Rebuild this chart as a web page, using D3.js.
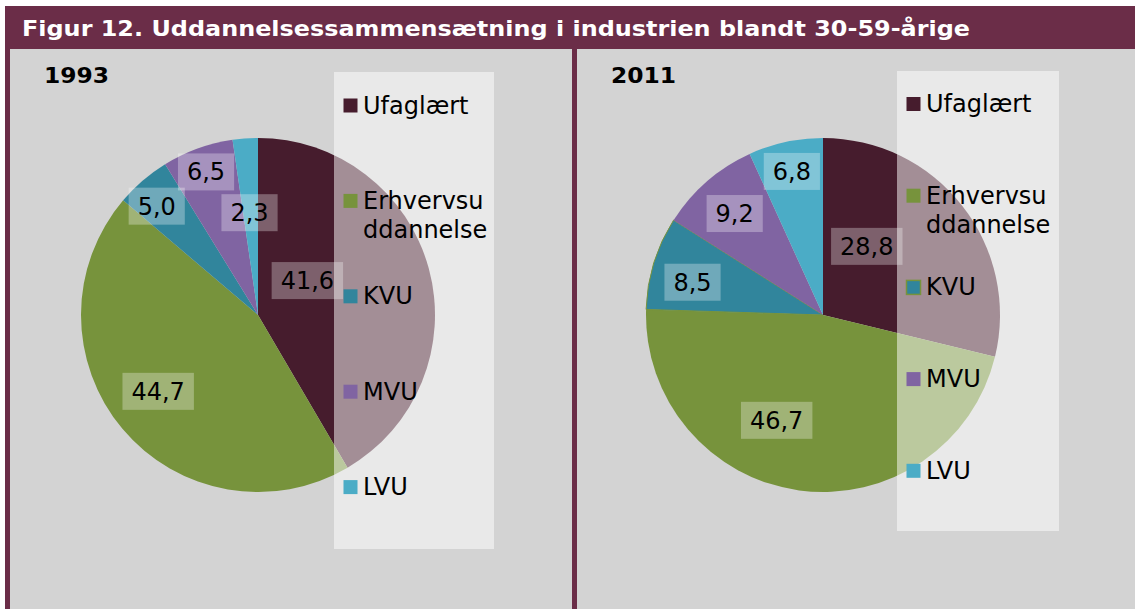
<!DOCTYPE html>
<html>
<head>
<meta charset="utf-8">
<script src="https://cdn.jsdelivr.net/npm/d3@7/dist/d3.min.js"></script>
<style>
  body { margin: 0; background: #fff; }
  text { font-family: "DejaVu Sans", Verdana, sans-serif; }
</style>
</head>
<body>
<div id="chart"></div>
<script>
// data
const title = 'Figur 12. Uddannelsessammensætning i industrien blandt 30-59-årige';
const categories = ['Ufaglært', 'Erhvervsuddannelse', 'KVU', 'MVU', 'LVU'];
const legendLines = [['Ufaglært'], ['Erhvervsu', 'ddannelse'], ['KVU'], ['MVU'], ['LVU']];
const years = ['1993', '2011'];
const values1993 = [41.6, 44.7, 5.0, 6.5, 2.3];
const values2011 = [28.8, 46.7, 8.5, 9.2, 6.8];
const colors = ['#461c2d', '#77933c', '#31859c', '#8064a2', '#4bacc6'];

// layout of the two panels
const width = 1135;
const height = 609;
const maroon = '#6b2d48';
const panels = [
  { year: years[0], values: values1993, x0: 10, x1: 572, cx: 258, cy: 315, r: 177,
    legend: { x: 334, y: 72, w: 160, h: 477, first: 105.5, step: 95.4 },
    // label placement: [fraction of radius, angle shift in degrees]
    labelPlace: [[0.34, -19.7], [0.71, 2.6], [0.84, -2.3], [0.86, 0], [0.58, -0.6]],
    kvuStroke: false },
  { year: years[1], values: values2011, x0: 577, x1: 1135, cx: 823, cy: 315, r: 177,
    legend: { x: 897, y: 71, w: 162, h: 460, first: 104, step: 91.7 },
    labelPlace: [[0.46, -19.3], [0.65, 16], [0.76, -3], [0.76, 0], [0.83, 0]],
    kvuStroke: true }
];

const fmt = d3.formatLocale({ decimal: ',', thousands: '.', grouping: [3], currency: ['', ''] }).format('.1f');

const svg = d3.select('#chart').append('svg')
  .attr('width', width)
  .attr('height', height);

svg.append('rect').attr('width', width).attr('height', height).attr('fill', '#fff');

// title bar
svg.append('rect')
  .attr('x', 5).attr('y', 6)
  .attr('width', width - 5).attr('height', 43)
  .attr('fill', maroon);
svg.append('text')
  .attr('x', 22).attr('y', 36)
  .attr('textLength', 948)
  .attr('lengthAdjust', 'spacingAndGlyphs')
  .style('font-size', '22px')
  .style('font-weight', 'bold')
  .attr('fill', '#fff')
  .text(title);

// side borders
svg.append('rect').attr('x', 5).attr('y', 49).attr('width', 5).attr('height', height - 49).attr('fill', maroon);
svg.append('rect').attr('x', 572).attr('y', 49).attr('width', 5).attr('height', height - 49).attr('fill', maroon);

const pie = d3.pie().sort(null).value(d => d);

panels.forEach(function (p) {
  const g = svg.append('g');

  g.append('rect')
    .attr('x', p.x0).attr('y', 49)
    .attr('width', p.x1 - p.x0).attr('height', height - 49)
    .attr('fill', '#d3d3d3');

  // year heading
  g.append('text')
    .attr('x', p.x0 + 34).attr('y', 83)
    .attr('textLength', 65)
    .attr('lengthAdjust', 'spacingAndGlyphs')
    .style('font-size', '22px')
    .style('font-weight', 'bold')
    .text(p.year);

  const arcs = pie(p.values);
  const arc = d3.arc().innerRadius(0).outerRadius(p.r);

  const pg = g.append('g').attr('transform', 'translate(' + p.cx + ',' + p.cy + ')');
  pg.selectAll('path.slice')
    .data(arcs)
    .enter().append('path')
    .attr('class', 'slice')
    .attr('d', arc)
    .attr('fill', (d, i) => colors[i])
    .attr('stroke', (d, i) => (p.kvuStroke && i === 2) ? colors[1] : 'none')
    .attr('stroke-width', 1);

  // legend (semi transparent, drawn over the pie)
  const L = p.legend;
  g.append('rect')
    .attr('x', L.x).attr('y', L.y)
    .attr('width', L.w).attr('height', L.h)
    .attr('fill', '#fff')
    .attr('fill-opacity', 0.5);

  legendLines.forEach(function (lines, i) {
    const yc = L.first + i * L.step;
    g.append('rect')
      .attr('x', L.x + 9.5).attr('y', yc - 7)
      .attr('width', 14).attr('height', 14)
      .attr('fill', colors[i])
      .attr('stroke', (p.kvuStroke && i === 2) ? colors[1] : 'none')
      .attr('stroke-width', 1.5);
    const t = g.append('text')
      .attr('x', L.x + 29).attr('y', yc + 8)
      .style('font-size', '24px')
      .attr('fill', '#000');
    lines.forEach(function (line, j) {
      t.append('tspan')
        .attr('x', L.x + 29)
        .attr('dy', j === 0 ? 0 : 29)
        .text(line);
    });
  });

  // data labels
  arcs.forEach(function (d, i) {
    const place = p.labelPlace[i];
    const a = (d.startAngle + d.endAngle) / 2 + place[1] * Math.PI / 180;
    const rr = place[0] * p.r;
    const lx = p.cx + rr * Math.sin(a);
    const ly = p.cy - rr * Math.cos(a);
    const lg = g.append('g');
    const t = lg.append('text')
      .attr('x', lx).attr('y', ly + 8.5)
      .attr('text-anchor', 'middle')
      .style('font-size', '24px')
      .attr('fill', '#000')
      .text(fmt(d.data));
    const w = t.node().getComputedTextLength() + 18;
    lg.insert('rect', 'text')
      .attr('x', lx - w / 2).attr('y', ly - 18.5)
      .attr('width', w).attr('height', 37)
      .attr('fill', '#fff')
      .attr('fill-opacity', 0.3);
  });
});
</script>
</body>
</html>
